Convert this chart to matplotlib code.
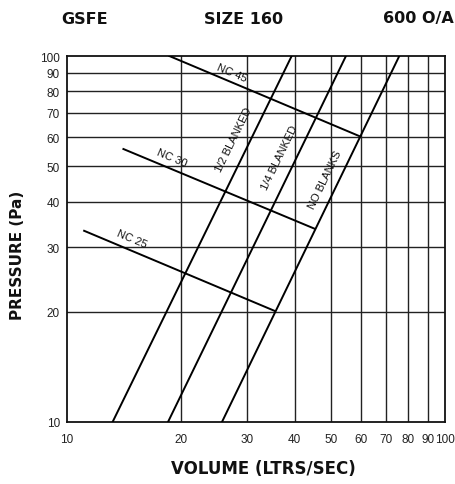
import numpy as np
import matplotlib
matplotlib.use("Agg")
import matplotlib.pyplot as plt

# system curves: volume (l/s) at 10 Pa and 100 Pa
p_ends = [10, 100]
half_blanked = [13.2, 39.3]
quarter_blanked = [18.5, 54.7]
no_blanks = [25.7, 75.7]

# NC lines (volume, pressure) start -> end
nc45_q, nc45_p = [18.65, 59.6], [100, 60.3]
nc30_q, nc30_p = [14.1, 45.3], [55.7, 33.7]
nc25_q, nc25_p = [11.1, 35.5], [33.3, 20.1]

ticks = [10, 20, 30, 40, 50, 60, 70, 80, 90, 100]

# label (text, x, y, which line for angle)
labels = [
    ("NC 45", 27.3, 90.0, (nc45_q, nc45_p)),
    ("NC 30", 18.96, 53.0, (nc30_q, nc30_p)),
    ("NC 25", 14.83, 31.8, (nc25_q, nc25_p)),
    ("1/2 BLANKED", 27.6, 59.3, (half_blanked, p_ends)),
    ("1/4 BLANKED", 36.6, 53.1, (quarter_blanked, p_ends)),
    ("NO BLANKS", 48.2, 46.1, (no_blanks, p_ends)),
]

plt.rcParams['font.family'] = ['Liberation Sans', 'DejaVu Sans']

fig = plt.figure(figsize=(4.56, 4.85), dpi=100)
ax = fig.add_axes([67/456, 62/485, 378/456, 366/485])
ax.set_xscale('log')
ax.set_yscale('log')
ax.set_xlim(10, 100)
ax.set_ylim(10, 100)

for v in ticks[1:-1]:
    ax.axvline(v, color='#222222', lw=1.0, zorder=1)
    ax.axhline(v, color='#222222', lw=1.0, zorder=1)

for q in (half_blanked, quarter_blanked, no_blanks):
    ax.plot(q, p_ends, color='black', lw=1.4, zorder=3)
for q, p in ((nc45_q, nc45_p), (nc30_q, nc30_p), (nc25_q, nc25_p)):
    ax.plot(q, p, color='black', lw=1.4, zorder=3)

ax.set_xticks(ticks)
ax.set_yticks(ticks)
ax.set_xticklabels([str(t) for t in ticks])
ax.set_yticklabels([str(t) for t in ticks])
ax.xaxis.set_minor_locator(matplotlib.ticker.NullLocator())
ax.yaxis.set_minor_locator(matplotlib.ticker.NullLocator())
ax.tick_params(length=0, labelsize=8.5, labelcolor='#222222')
ax.tick_params(axis='x', pad=8)
ax.tick_params(axis='y', pad=5)
for s in ax.spines.values():
    s.set_linewidth(1.3)
    s.set_color('#111111')

fig.canvas.draw()
for txt, x, y, (lq, lp) in labels:
    p0 = ax.transData.transform((lq[0], lp[0]))
    p1 = ax.transData.transform((lq[1], lp[1]))
    ang = np.degrees(np.arctan2(p1[1] - p0[1], p1[0] - p0[0]))
    if ang > 90:
        ang -= 180
    if ang < -90:
        ang += 180
    ax.text(x, y, txt, rotation=ang, rotation_mode='anchor', ha='center',
            va='center', fontsize=8, color='#111111', zorder=4)

bold = dict(fontweight='bold', color='#111111', family='DejaVu Sans')
fig.text(85/456, 1 - 19/485, "GSFE", ha='center', va='center', fontsize=11.5, **bold)
fig.text(244/456, 1 - 19/485, "SIZE 160", ha='center', va='center', fontsize=11.5, **bold)
fig.text(454/456, 1 - 19/485, "600 O/A", ha='right', va='center', fontsize=11.5, **bold)
fig.text(263/456, 1 - 469/485, "VOLUME (LTRS/SEC)", ha='center', va='center',
         fontsize=12, **bold)
fig.text(18/456, 1 - 255/485, "PRESSURE (Pa)", ha='center', va='center',
         rotation=90, fontsize=11, **bold)

fig.savefig("out.png", dpi=100)
plt.close(fig)
